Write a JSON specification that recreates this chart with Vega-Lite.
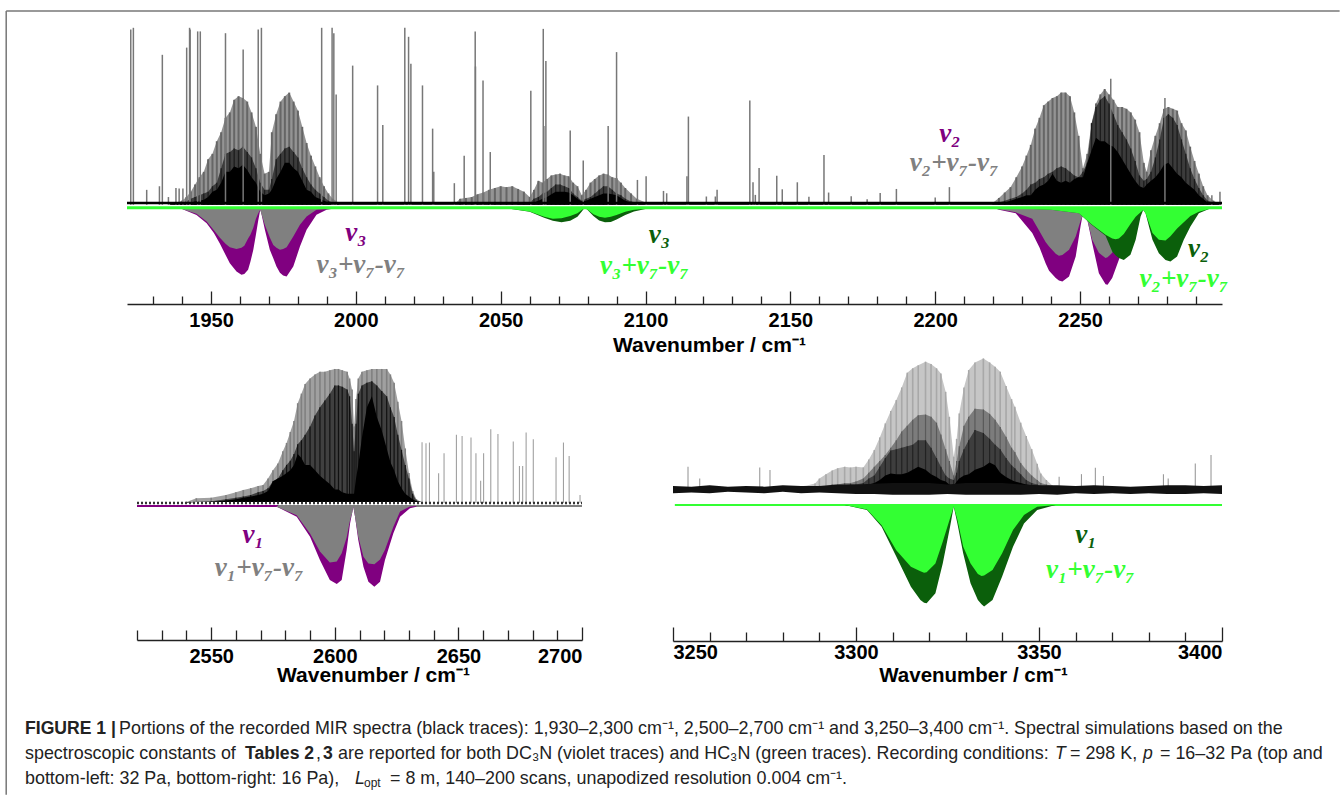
{"$schema":"https://vega.github.io/schema/vega-lite/v6.json","background":"white","padding":{"left":5,"top":10,"right":0,"bottom":0},"bounds":"flush","spacing":54,"config":{"view":{"stroke":null},"text":{"font":"Liberation Sans"}},
"datasets":{
"frame":[{"a":1879.3,"b":1879.3,"c":1.094,"d":-3.26},{"a":1879.3,"b":2339.6,"c":1.094,"d":1.094}],
"topBase":[{"from":1921,"to":2299,"noise":0.027,"green":0}],
"topSticks":[{"nu":1922.3,"h":0.99},{"nu":1923.2,"h":1.0},{"nu":1927.8,"h":0.1},{"nu":1932.2,"h":0.12},{"nu":1933.2,"h":0.85},{"nu":1935.3,"h":0.06},{"nu":1937.9,"h":0.11},{"nu":1939,"h":0.107},{"nu":1940.3,"h":0.107},{"nu":1941.6,"h":0.89},{"nu":1942.6,"h":1.0},{"nu":1942.8,"h":0.99},{"nu":1945.4,"h":0.98},{"nu":1946.3,"h":0.98},{"nu":1955,"h":0.97},{"nu":1961.1,"h":0.88},{"nu":1966.3,"h":0.99},{"nu":1967.4,"h":1.0},{"nu":1988.2,"h":1.0},{"nu":1991.8,"h":1.0},{"nu":1992.4,"h":0.97},{"nu":1993.2,"h":0.63},{"nu":1998.9,"h":0.79},{"nu":2007.5,"h":0.68},{"nu":2009.3,"h":0.46},{"nu":2016.9,"h":1.0},{"nu":2018.2,"h":0.95},{"nu":2019,"h":0.8},{"nu":2023,"h":0.68},{"nu":2026.5,"h":0.44},{"nu":2026.9,"h":0.2},{"nu":2034,"h":0.137},{"nu":2037.4,"h":0.29},{"nu":2041.2,"h":0.98},{"nu":2041.3,"h":0.785},{"nu":2043.9,"h":0.707},{"nu":2046.4,"h":0.31},{"nu":2060.4,"h":0.65},{"nu":2064.7,"h":0.994},{"nu":2064.9,"h":0.455},{"nu":2065.6,"h":0.816},{"nu":2074,"h":0.43},{"nu":2078.5,"h":0.263},{"nu":2087.1,"h":0.455},{"nu":2090,"h":0.865},{"nu":2097.2,"h":0.155},{"nu":2100.2,"h":0.176},{"nu":2106.2,"h":0.094},{"nu":2107.3,"h":0.081},{"nu":2114.3,"h":0.176},{"nu":2114.8,"h":0.507},{"nu":2121,"h":0.063},{"nu":2124.1,"h":0.063},{"nu":2124.7,"h":0.1},{"nu":2136,"h":0.596},{"nu":2137.1,"h":0.142},{"nu":2137.9,"h":0.072},{"nu":2139.2,"h":0.222},{"nu":2145.3,"h":0.178},{"nu":2147.2,"h":0.103},{"nu":2152.4,"h":0.142},{"nu":2156.4,"h":0.061},{"nu":2161.6,"h":0.294},{"nu":2163.2,"h":0.085},{"nu":2171,"h":0.065},{"nu":2176.5,"h":0.048},{"nu":2181,"h":0.083},{"nu":2186.6,"h":0.105},{"nu":2200,"h":0.057},{"nu":2204.9,"h":0.115},{"nu":2260.6,"h":0.717},{"nu":2279.3,"h":0.61},{"nu":2295.5,"h":0.07},{"nu":2298.3,"h":0.09}],
"topBands":[{"nu":1936,"light":0.02,"mid":0.02,"dark":0.02},{"nu":1938,"light":0.03,"mid":0.025,"dark":0.022},{"nu":1940,"light":0.04,"mid":0.03,"dark":0.025},{"nu":1941.5,"light":0.06,"mid":0.035,"dark":0.028},{"nu":1943,"light":0.09,"mid":0.05,"dark":0.03},{"nu":1944.5,"light":0.13,"mid":0.06,"dark":0.035},{"nu":1946,"light":0.17,"mid":0.07,"dark":0.04},{"nu":1947.5,"light":0.2,"mid":0.08,"dark":0.045},{"nu":1949,"light":0.27,"mid":0.09,"dark":0.06},{"nu":1950.5,"light":0.3,"mid":0.12,"dark":0.09},{"nu":1952,"light":0.37,"mid":0.14,"dark":0.1},{"nu":1953.5,"light":0.42,"mid":0.22,"dark":0.14},{"nu":1955,"light":0.5,"mid":0.3,"dark":0.2},{"nu":1956.5,"light":0.53,"mid":0.31,"dark":0.2},{"nu":1958,"light":0.6,"mid":0.33,"dark":0.23},{"nu":1959.5,"light":0.62,"mid":0.32,"dark":0.22},{"nu":1961,"light":0.61,"mid":0.34,"dark":0.24},{"nu":1962.5,"light":0.59,"mid":0.31,"dark":0.21},{"nu":1964,"light":0.53,"mid":0.28,"dark":0.17},{"nu":1965.5,"light":0.45,"mid":0.22,"dark":0.14},{"nu":1967,"light":0.3,"mid":0.14,"dark":0.09},{"nu":1968.5,"light":0.19,"mid":0.1,"dark":0.07},{"nu":1970,"light":0.2,"mid":0.1,"dark":0.08},{"nu":1971,"light":0.42,"mid":0.16,"dark":0.1},{"nu":1972.5,"light":0.52,"mid":0.27,"dark":0.16},{"nu":1974,"light":0.59,"mid":0.3,"dark":0.2},{"nu":1975.5,"light":0.62,"mid":0.33,"dark":0.25},{"nu":1977,"light":0.64,"mid":0.34,"dark":0.25},{"nu":1978.5,"light":0.59,"mid":0.31,"dark":0.22},{"nu":1980,"light":0.54,"mid":0.28,"dark":0.2},{"nu":1981.5,"light":0.45,"mid":0.22,"dark":0.15},{"nu":1983,"light":0.36,"mid":0.17,"dark":0.1},{"nu":1984.5,"light":0.29,"mid":0.13,"dark":0.09},{"nu":1986,"light":0.23,"mid":0.1,"dark":0.06},{"nu":1987.5,"light":0.17,"mid":0.08,"dark":0.05},{"nu":1989,"light":0.12,"mid":0.06,"dark":0.04},{"nu":1990.5,"light":0.08,"mid":0.04,"dark":0.03},{"nu":1992,"light":0.05,"mid":0.03,"dark":0.025},{"nu":1994,"light":0.03,"mid":0.02,"dark":0.02},{"nu":2034,"light":0.02,"mid":0.02,"dark":0.02},{"nu":2036,"light":0.05,"mid":0.02,"dark":0.02},{"nu":2038,"light":0.055,"mid":0.02,"dark":0.02},{"nu":2040,"light":0.06,"mid":0.02,"dark":0.02},{"nu":2042,"light":0.075,"mid":0.02,"dark":0.02},{"nu":2044,"light":0.085,"mid":0.025,"dark":0.02},{"nu":2046,"light":0.1,"mid":0.025,"dark":0.02},{"nu":2048,"light":0.11,"mid":0.03,"dark":0.02},{"nu":2050,"light":0.12,"mid":0.03,"dark":0.02},{"nu":2052,"light":0.115,"mid":0.03,"dark":0.02},{"nu":2054,"light":0.12,"mid":0.03,"dark":0.02},{"nu":2056,"light":0.105,"mid":0.03,"dark":0.02},{"nu":2058,"light":0.09,"mid":0.03,"dark":0.025},{"nu":2060,"light":0.06,"mid":0.03,"dark":0.025},{"nu":2061.5,"light":0.1,"mid":0.05,"dark":0.03},{"nu":2063,"light":0.15,"mid":0.06,"dark":0.04},{"nu":2064.5,"light":0.14,"mid":0.08,"dark":0.05},{"nu":2066,"light":0.16,"mid":0.09,"dark":0.06},{"nu":2067.5,"light":0.18,"mid":0.11,"dark":0.075},{"nu":2069,"light":0.185,"mid":0.13,"dark":0.09},{"nu":2070.5,"light":0.19,"mid":0.13,"dark":0.09},{"nu":2072,"light":0.18,"mid":0.12,"dark":0.09},{"nu":2073.5,"light":0.175,"mid":0.11,"dark":0.085},{"nu":2075,"light":0.14,"mid":0.08,"dark":0.07},{"nu":2076.5,"light":0.12,"mid":0.06,"dark":0.05},{"nu":2078,"light":0.07,"mid":0.04,"dark":0.035},{"nu":2079.5,"light":0.1,"mid":0.05,"dark":0.04},{"nu":2081,"light":0.14,"mid":0.06,"dark":0.05},{"nu":2082.5,"light":0.16,"mid":0.08,"dark":0.06},{"nu":2084,"light":0.18,"mid":0.1,"dark":0.07},{"nu":2085.5,"light":0.19,"mid":0.12,"dark":0.08},{"nu":2087,"light":0.185,"mid":0.12,"dark":0.08},{"nu":2088.5,"light":0.17,"mid":0.1,"dark":0.075},{"nu":2090,"light":0.165,"mid":0.08,"dark":0.07},{"nu":2091.5,"light":0.14,"mid":0.07,"dark":0.055},{"nu":2093,"light":0.11,"mid":0.05,"dark":0.04},{"nu":2095,"light":0.08,"mid":0.035,"dark":0.03},{"nu":2097,"light":0.05,"mid":0.03,"dark":0.025},{"nu":2100,"light":0.03,"mid":0.02,"dark":0.02},{"nu":2220,"light":0.03,"mid":0.025,"dark":0.02},{"nu":2222,"light":0.055,"mid":0.03,"dark":0.025},{"nu":2224,"light":0.085,"mid":0.04,"dark":0.03},{"nu":2226,"light":0.115,"mid":0.05,"dark":0.04},{"nu":2228,"light":0.17,"mid":0.06,"dark":0.05},{"nu":2230,"light":0.23,"mid":0.08,"dark":0.06},{"nu":2231.5,"light":0.29,"mid":0.1,"dark":0.07},{"nu":2233,"light":0.35,"mid":0.13,"dark":0.07},{"nu":2234.5,"light":0.44,"mid":0.14,"dark":0.1},{"nu":2236,"light":0.5,"mid":0.16,"dark":0.12},{"nu":2237.5,"light":0.57,"mid":0.17,"dark":0.13},{"nu":2239,"light":0.59,"mid":0.19,"dark":0.15},{"nu":2240.5,"light":0.61,"mid":0.2,"dark":0.19},{"nu":2242,"light":0.62,"mid":0.22,"dark":0.15},{"nu":2243.5,"light":0.64,"mid":0.23,"dark":0.14},{"nu":2245,"light":0.64,"mid":0.22,"dark":0.15},{"nu":2246.5,"light":0.62,"mid":0.2,"dark":0.14},{"nu":2248,"light":0.53,"mid":0.18,"dark":0.16},{"nu":2249.5,"light":0.4,"mid":0.17,"dark":0.17},{"nu":2251,"light":0.22,"mid":0.2,"dark":0.17},{"nu":2252.5,"light":0.3,"mid":0.25,"dark":0.25},{"nu":2254,"light":0.47,"mid":0.47,"dark":0.32},{"nu":2255.5,"light":0.58,"mid":0.56,"dark":0.39},{"nu":2257,"light":0.63,"mid":0.6,"dark":0.37},{"nu":2258.5,"light":0.66,"mid":0.62,"dark":0.37},{"nu":2260,"light":0.63,"mid":0.58,"dark":0.35},{"nu":2261.5,"light":0.6,"mid":0.52,"dark":0.34},{"nu":2263,"light":0.56,"mid":0.46,"dark":0.31},{"nu":2264.5,"light":0.56,"mid":0.42,"dark":0.27},{"nu":2266,"light":0.55,"mid":0.38,"dark":0.23},{"nu":2267.5,"light":0.53,"mid":0.33,"dark":0.19},{"nu":2269,"light":0.49,"mid":0.26,"dark":0.15},{"nu":2270.5,"light":0.42,"mid":0.18,"dark":0.12},{"nu":2272,"light":0.25,"mid":0.15,"dark":0.11},{"nu":2273,"light":0.2,"mid":0.16,"dark":0.13},{"nu":2274.5,"light":0.32,"mid":0.2,"dark":0.15},{"nu":2276,"light":0.4,"mid":0.28,"dark":0.17},{"nu":2277.5,"light":0.47,"mid":0.38,"dark":0.2},{"nu":2279,"light":0.55,"mid":0.5,"dark":0.24},{"nu":2280.5,"light":0.56,"mid":0.52,"dark":0.25},{"nu":2282,"light":0.55,"mid":0.5,"dark":0.22},{"nu":2283.5,"light":0.54,"mid":0.46,"dark":0.19},{"nu":2285,"light":0.47,"mid":0.38,"dark":0.17},{"nu":2286.5,"light":0.43,"mid":0.3,"dark":0.14},{"nu":2288,"light":0.34,"mid":0.22,"dark":0.12},{"nu":2289.5,"light":0.26,"mid":0.16,"dark":0.1},{"nu":2291,"light":0.19,"mid":0.11,"dark":0.07},{"nu":2292.5,"light":0.12,"mid":0.07,"dark":0.05},{"nu":2294,"light":0.07,"mid":0.04,"dark":0.03},{"nu":2296,"light":0.04,"mid":0.03,"dark":0.025},{"nu":2298.5,"light":0.02,"mid":0.02,"dark":0.02}],
"topD":[{"nu":1932,"strong":0,"weak":0},{"nu":1940,"strong":-0.006,"weak":-0.006},{"nu":1945,"strong":-0.04,"weak":-0.033},{"nu":1948.5,"strong":-0.085,"weak":-0.076},{"nu":1951,"strong":-0.14,"weak":-0.125},{"nu":1953,"strong":-0.196,"weak":-0.165},{"nu":1955,"strong":-0.26,"weak":-0.2},{"nu":1956.5,"strong":-0.307,"weak":-0.219},{"nu":1958.8,"strong":-0.354,"weak":-0.228},{"nu":1960.5,"strong":-0.372,"weak":-0.222},{"nu":1961.5,"strong":-0.368,"weak":-0.21},{"nu":1962.8,"strong":-0.344,"weak":-0.17},{"nu":1963.6,"strong":-0.3,"weak":-0.15},{"nu":1964.6,"strong":-0.233,"weak":-0.11},{"nu":1965.5,"strong":-0.15,"weak":-0.06},{"nu":1966.3,"strong":-0.07,"weak":-0.03},{"nu":1967,"strong":-0.01,"weak":-0.01},{"nu":1967.4,"strong":-0.033,"weak":-0.033},{"nu":1968.6,"strong":-0.122,"weak":-0.095},{"nu":1970.3,"strong":-0.233,"weak":-0.165},{"nu":1971.5,"strong":-0.28,"weak":-0.206},{"nu":1972.6,"strong":-0.326,"weak":-0.222},{"nu":1973.8,"strong":-0.36,"weak":-0.233},{"nu":1974.9,"strong":-0.376,"weak":-0.228},{"nu":1976.1,"strong":-0.381,"weak":-0.219},{"nu":1978.4,"strong":-0.326,"weak":-0.159},{"nu":1980.7,"strong":-0.215,"weak":-0.094},{"nu":1983,"strong":-0.122,"weak":-0.048},{"nu":1986.4,"strong":-0.039,"weak":-0.011},{"nu":1989.9,"strong":-0.011,"weak":-0.005},{"nu":1992,"strong":-0.005,"weak":0},{"nu":1996,"strong":0,"weak":0},{"nu":2220,"strong":0,"weak":0},{"nu":2222,"strong":-0.01,"weak":-0.008},{"nu":2227.8,"strong":-0.03,"weak":-0.025},{"nu":2233.5,"strong":-0.14,"weak":-0.06},{"nu":2236,"strong":-0.22,"weak":-0.13},{"nu":2238.1,"strong":-0.307,"weak":-0.19},{"nu":2239.3,"strong":-0.35,"weak":-0.214},{"nu":2241.6,"strong":-0.39,"weak":-0.255},{"nu":2242.7,"strong":-0.403,"weak":-0.266},{"nu":2243.9,"strong":-0.409,"weak":-0.262},{"nu":2246.2,"strong":-0.381,"weak":-0.233},{"nu":2248.5,"strong":-0.27,"weak":-0.159},{"nu":2250.2,"strong":-0.1,"weak":-0.07},{"nu":2250.8,"strong":-0.048,"weak":-0.048},{"nu":2251.5,"strong":-0.03,"weak":-0.03},{"nu":2252.5,"strong":-0.066,"weak":-0.066},{"nu":2254.2,"strong":-0.196,"weak":-0.177},{"nu":2256.5,"strong":-0.363,"weak":-0.25},{"nu":2258.8,"strong":-0.425,"weak":-0.279},{"nu":2259.5,"strong":-0.427,"weak":-0.275},{"nu":2261.1,"strong":-0.39,"weak":-0.25},{"nu":2263.4,"strong":-0.288,"weak":-0.177},{"nu":2265,"strong":-0.2,"weak":-0.12},{"nu":2268,"strong":-0.08,"weak":-0.05},{"nu":2271,"strong":-0.01,"weak":-0.01},{"nu":2273,"strong":0,"weak":0}],
"topH":[{"nu":2040,"strong":0,"weak":0},{"nu":2052,"strong":-0.002,"weak":-0.002},{"nu":2060,"strong":-0.022,"weak":-0.02},{"nu":2065,"strong":-0.055,"weak":-0.05},{"nu":2068,"strong":-0.072,"weak":-0.06},{"nu":2071,"strong":-0.08,"weak":-0.058},{"nu":2074,"strong":-0.072,"weak":-0.045},{"nu":2076.5,"strong":-0.05,"weak":-0.03},{"nu":2078,"strong":-0.02,"weak":-0.012},{"nu":2079,"strong":0,"weak":0},{"nu":2080,"strong":-0.012,"weak":-0.01},{"nu":2082,"strong":-0.045,"weak":-0.035},{"nu":2084,"strong":-0.07,"weak":-0.05},{"nu":2086,"strong":-0.08,"weak":-0.055},{"nu":2088,"strong":-0.078,"weak":-0.05},{"nu":2090,"strong":-0.065,"weak":-0.04},{"nu":2093,"strong":-0.04,"weak":-0.022},{"nu":2096,"strong":-0.02,"weak":-0.01},{"nu":2100,"strong":-0.006,"weak":-0.003},{"nu":2105,"strong":0,"weak":0},{"nu":2225,"strong":0,"weak":0},{"nu":2240,"strong":-0.01,"weak":-0.01},{"nu":2249.6,"strong":-0.03,"weak":-0.03},{"nu":2254.2,"strong":-0.096,"weak":-0.094},{"nu":2258.8,"strong":-0.155,"weak":-0.15},{"nu":2261.1,"strong":-0.242,"weak":-0.17},{"nu":2262.3,"strong":-0.265,"weak":-0.174},{"nu":2263.4,"strong":-0.279,"weak":-0.17},{"nu":2265.1,"strong":-0.289,"weak":-0.145},{"nu":2267.4,"strong":-0.26,"weak":-0.09},{"nu":2269.2,"strong":-0.177,"weak":-0.05},{"nu":2270.9,"strong":-0.048,"weak":-0.025},{"nu":2271.8,"strong":-0.012,"weak":-0.012},{"nu":2272.6,"strong":-0.03,"weak":-0.03},{"nu":2275,"strong":-0.177,"weak":-0.14},{"nu":2277.2,"strong":-0.252,"weak":-0.177},{"nu":2279.5,"strong":-0.289,"weak":-0.181},{"nu":2281.2,"strong":-0.298,"weak":-0.158},{"nu":2283.5,"strong":-0.27,"weak":-0.115},{"nu":2285.8,"strong":-0.177,"weak":-0.08},{"nu":2288.1,"strong":-0.103,"weak":-0.045},{"nu":2291,"strong":-0.03,"weak":-0.022},{"nu":2294.5,"strong":-0.006,"weak":-0.006},{"nu":2298,"strong":0,"weak":0}],
"topLabels":[{"nu":2000,"y":-0.139,"t":"ν₃","kind":"D"},{"nu":2001.7,"y":-0.317,"t":"ν₃+ν₇-ν₇","kind":"DH"},{"nu":2104.8,"y":-0.15,"t":"ν₃","kind":"H"},{"nu":2099.6,"y":-0.322,"t":"ν₃+ν₇-ν₇","kind":"HH"},{"nu":2205.1,"y":0.411,"t":"ν₂","kind":"D"},{"nu":2206.5,"y":0.25,"t":"ν₂+ν₇-ν₇","kind":"DH"},{"nu":2291,"y":-0.228,"t":"ν₂","kind":"H"},{"nu":2285.8,"y":-0.394,"t":"ν₂+ν₇-ν₇","kind":"HH"}],
"leftBase":[{"from":2520,"to":2700,"noise":0.022,"gray":0,"violetTo":2577}],
"leftSticks":[{"nu":2635.3,"h":0.465},{"nu":2636.9,"h":0.458},{"nu":2638.3,"h":0.463},{"nu":2642,"h":0.239},{"nu":2644.2,"h":0.385},{"nu":2649.2,"h":0.519},{"nu":2651.5,"h":0.511},{"nu":2655.1,"h":0.5},{"nu":2657.1,"h":0.385},{"nu":2659,"h":0.185},{"nu":2660.2,"h":0.385},{"nu":2663.1,"h":0.56},{"nu":2666,"h":0.526},{"nu":2672.2,"h":0.47},{"nu":2674.7,"h":0.292},{"nu":2676,"h":0.292},{"nu":2677.4,"h":0.536},{"nu":2680.3,"h":0.487},{"nu":2689.5,"h":0.356},{"nu":2692.5,"h":0.463},{"nu":2694.8,"h":0.365},{"nu":2699.2,"h":0.08}],
"leftBands":[{"nu":2540,"light":0.03,"mid":0.025,"dark":0.025},{"nu":2544,"light":0.056,"mid":0.03,"dark":0.03},{"nu":2550,"light":0.06,"mid":0.035,"dark":0.03},{"nu":2556,"light":0.08,"mid":0.05,"dark":0.04},{"nu":2560,"light":0.1,"mid":0.06,"dark":0.05},{"nu":2563,"light":0.117,"mid":0.07,"dark":0.06},{"nu":2566,"light":0.13,"mid":0.08,"dark":0.07},{"nu":2569,"light":0.145,"mid":0.1,"dark":0.08},{"nu":2571,"light":0.154,"mid":0.11,"dark":0.09},{"nu":2573,"light":0.2,"mid":0.13,"dark":0.11},{"nu":2575,"light":0.26,"mid":0.18,"dark":0.18},{"nu":2577,"light":0.31,"mid":0.2,"dark":0.2},{"nu":2579,"light":0.4,"mid":0.26,"dark":0.22},{"nu":2580.5,"light":0.46,"mid":0.3,"dark":0.24},{"nu":2582,"light":0.54,"mid":0.33,"dark":0.26},{"nu":2583.5,"light":0.62,"mid":0.38,"dark":0.3},{"nu":2585,"light":0.75,"mid":0.45,"dark":0.38},{"nu":2586.5,"light":0.82,"mid":0.48,"dark":0.35},{"nu":2588,"light":0.89,"mid":0.52,"dark":0.3},{"nu":2590,"light":0.93,"mid":0.58,"dark":0.3},{"nu":2592,"light":0.96,"mid":0.66,"dark":0.26},{"nu":2594,"light":0.98,"mid":0.72,"dark":0.22},{"nu":2596,"light":0.98,"mid":0.77,"dark":0.19},{"nu":2598,"light":0.99,"mid":0.82,"dark":0.16},{"nu":2600,"light":1.0,"mid":0.88,"dark":0.12},{"nu":2601.5,"light":1.0,"mid":0.88,"dark":0.12},{"nu":2603,"light":0.99,"mid":0.87,"dark":0.1},{"nu":2605,"light":0.98,"mid":0.85,"dark":0.09},{"nu":2606,"light":0.93,"mid":0.8,"dark":0.09},{"nu":2607,"light":0.85,"mid":0.6,"dark":0.09},{"nu":2607.8,"light":0.58,"mid":0.4,"dark":0.09},{"nu":2608.6,"light":0.78,"mid":0.6,"dark":0.2},{"nu":2609.5,"light":0.93,"mid":0.82,"dark":0.3},{"nu":2611,"light":0.98,"mid":0.88,"dark":0.5},{"nu":2613,"light":0.99,"mid":0.9,"dark":0.72},{"nu":2615,"light":1.0,"mid":0.91,"dark":0.8},{"nu":2617,"light":1.0,"mid":0.88,"dark":0.65},{"nu":2619,"light":1.0,"mid":0.84,"dark":0.55},{"nu":2621,"light":1.0,"mid":0.8,"dark":0.42},{"nu":2622.5,"light":0.96,"mid":0.72,"dark":0.32},{"nu":2624,"light":0.9,"mid":0.65,"dark":0.26},{"nu":2625.5,"light":0.76,"mid":0.52,"dark":0.18},{"nu":2627,"light":0.62,"mid":0.41,"dark":0.13},{"nu":2628.5,"light":0.42,"mid":0.3,"dark":0.09},{"nu":2630,"light":0.24,"mid":0.2,"dark":0.07},{"nu":2631.5,"light":0.11,"mid":0.09,"dark":0.05},{"nu":2633,"light":0.05,"mid":0.04,"dark":0.035},{"nu":2635,"light":0.03,"mid":0.03,"dark":0.03}],
"leftD":[{"nu":2576.5,"strong":-0.005,"weak":-0.005},{"nu":2584.6,"strong":-0.078,"weak":-0.068},{"nu":2590,"strong":-0.224,"weak":-0.2},{"nu":2594,"strong":-0.394,"weak":-0.333},{"nu":2598,"strong":-0.54,"weak":-0.413},{"nu":2600.8,"strong":-0.569,"weak":-0.406},{"nu":2602.8,"strong":-0.54,"weak":-0.345},{"nu":2604.8,"strong":-0.321,"weak":-0.23},{"nu":2606.2,"strong":-0.126,"weak":-0.1},{"nu":2607,"strong":-0.053,"weak":-0.053},{"nu":2607.5,"strong":-0.005,"weak":-0.005},{"nu":2608.2,"strong":-0.078,"weak":-0.078},{"nu":2609.5,"strong":-0.248,"weak":-0.224},{"nu":2611.6,"strong":-0.443,"weak":-0.37},{"nu":2613.6,"strong":-0.552,"weak":-0.42},{"nu":2616,"strong":-0.589,"weak":-0.425},{"nu":2618.3,"strong":-0.552,"weak":-0.39},{"nu":2620.3,"strong":-0.394,"weak":-0.32},{"nu":2623.7,"strong":-0.199,"weak":-0.151},{"nu":2626.4,"strong":-0.078,"weak":-0.04},{"nu":2630.4,"strong":-0.017,"weak":-0.004},{"nu":2633,"strong":-0.005,"weak":0}],
"leftLabels":[{"nu":2567,"y":-0.212,"t":"ν₁","kind":"D"},{"nu":2569.4,"y":-0.453,"t":"ν₁+ν₇-ν₇","kind":"DH"}],
"rightBase":[{"from":3250.5,"to":3400,"green":0}],
"rightSticks":[{"nu":3254.1,"h":0.26},{"nu":3257.3,"h":0.18},{"nu":3273.7,"h":0.256},{"nu":3276.5,"h":0.238},{"nu":3355.5,"h":0.192},{"nu":3361.6,"h":0.21},{"nu":3365.4,"h":0.254},{"nu":3367.6,"h":0.197},{"nu":3384,"h":0.21},{"nu":3385.3,"h":0.18},{"nu":3392.7,"h":0.283},{"nu":3397,"h":0.34}],
"rightNoise":[{"nu":3250,"upper":0.13,"lower":0.08},{"nu":3255,"upper":0.125,"lower":0.085},{"nu":3260,"upper":0.135,"lower":0.08},{"nu":3265,"upper":0.125,"lower":0.09},{"nu":3270,"upper":0.13,"lower":0.085},{"nu":3275,"upper":0.125,"lower":0.08},{"nu":3280,"upper":0.135,"lower":0.09},{"nu":3285,"upper":0.13,"lower":0.08},{"nu":3290,"upper":0.13,"lower":0.085},{"nu":3295,"upper":0.14,"lower":0.08},{"nu":3300,"upper":0.14,"lower":0.075},{"nu":3305,"upper":0.145,"lower":0.075},{"nu":3310,"upper":0.15,"lower":0.07},{"nu":3315,"upper":0.15,"lower":0.07},{"nu":3320,"upper":0.15,"lower":0.07},{"nu":3325,"upper":0.14,"lower":0.075},{"nu":3330,"upper":0.15,"lower":0.07},{"nu":3335,"upper":0.15,"lower":0.07},{"nu":3340,"upper":0.15,"lower":0.07},{"nu":3345,"upper":0.14,"lower":0.07},{"nu":3350,"upper":0.135,"lower":0.075},{"nu":3355,"upper":0.135,"lower":0.07},{"nu":3360,"upper":0.13,"lower":0.08},{"nu":3365,"upper":0.135,"lower":0.075},{"nu":3370,"upper":0.13,"lower":0.08},{"nu":3375,"upper":0.125,"lower":0.075},{"nu":3380,"upper":0.13,"lower":0.08},{"nu":3385,"upper":0.135,"lower":0.075},{"nu":3390,"upper":0.135,"lower":0.075},{"nu":3395,"upper":0.13,"lower":0.08},{"nu":3400,"upper":0.135,"lower":0.075}],
"rightBands":[{"nu":3286,"light":0.13,"mid":0.13,"dark":0.13,"core":0.13},{"nu":3288.8,"light":0.147,"mid":0.13,"dark":0.13,"core":0.13},{"nu":3290,"light":0.18,"mid":0.13,"dark":0.13,"core":0.13},{"nu":3291.8,"light":0.21,"mid":0.13,"dark":0.13,"core":0.13},{"nu":3293.5,"light":0.235,"mid":0.14,"dark":0.13,"core":0.13},{"nu":3295,"light":0.25,"mid":0.14,"dark":0.13,"core":0.13},{"nu":3296.9,"light":0.26,"mid":0.15,"dark":0.135,"core":0.13},{"nu":3298.5,"light":0.255,"mid":0.15,"dark":0.14,"core":0.13},{"nu":3300,"light":0.26,"mid":0.16,"dark":0.14,"core":0.13},{"nu":3302,"light":0.256,"mid":0.18,"dark":0.15,"core":0.135},{"nu":3303.5,"light":0.31,"mid":0.22,"dark":0.18,"core":0.14},{"nu":3305,"light":0.374,"mid":0.26,"dark":0.2,"core":0.15},{"nu":3306.5,"light":0.46,"mid":0.3,"dark":0.26,"core":0.17},{"nu":3308,"light":0.555,"mid":0.34,"dark":0.32,"core":0.2},{"nu":3309.5,"light":0.64,"mid":0.39,"dark":0.37,"core":0.215},{"nu":3311,"light":0.714,"mid":0.44,"dark":0.38,"core":0.21},{"nu":3312.5,"light":0.8,"mid":0.5,"dark":0.39,"core":0.21},{"nu":3314,"light":0.9,"mid":0.54,"dark":0.4,"core":0.22},{"nu":3315.5,"light":0.93,"mid":0.58,"dark":0.41,"core":0.24},{"nu":3317,"light":0.95,"mid":0.61,"dark":0.44,"core":0.26},{"nu":3319,"light":0.975,"mid":0.615,"dark":0.44,"core":0.24},{"nu":3320.5,"light":0.96,"mid":0.6,"dark":0.39,"core":0.21},{"nu":3322,"light":0.93,"mid":0.56,"dark":0.32,"core":0.19},{"nu":3323.2,"light":0.895,"mid":0.48,"dark":0.26,"core":0.17},{"nu":3324.5,"light":0.77,"mid":0.38,"dark":0.2,"core":0.16},{"nu":3325.5,"light":0.6,"mid":0.3,"dark":0.18,"core":0.14},{"nu":3326.7,"light":0.328,"mid":0.2,"dark":0.17,"core":0.13},{"nu":3327.5,"light":0.45,"mid":0.3,"dark":0.22,"core":0.16},{"nu":3328.2,"light":0.623,"mid":0.4,"dark":0.3,"core":0.18},{"nu":3329.5,"light":0.8,"mid":0.54,"dark":0.38,"core":0.2},{"nu":3330.8,"light":0.918,"mid":0.6,"dark":0.44,"core":0.21},{"nu":3332.5,"light":0.97,"mid":0.655,"dark":0.51,"core":0.24},{"nu":3334.8,"light":0.997,"mid":0.65,"dark":0.49,"core":0.26},{"nu":3336.5,"light":0.97,"mid":0.62,"dark":0.45,"core":0.29},{"nu":3338,"light":0.94,"mid":0.58,"dark":0.41,"core":0.27},{"nu":3339.4,"light":0.907,"mid":0.53,"dark":0.38,"core":0.22},{"nu":3341,"light":0.81,"mid":0.465,"dark":0.32,"core":0.19},{"nu":3342.5,"light":0.72,"mid":0.39,"dark":0.27,"core":0.17},{"nu":3343.4,"light":0.668,"mid":0.36,"dark":0.25,"core":0.16},{"nu":3345,"light":0.56,"mid":0.285,"dark":0.21,"core":0.15},{"nu":3346.5,"light":0.47,"mid":0.24,"dark":0.17,"core":0.14},{"nu":3348,"light":0.38,"mid":0.2,"dark":0.15,"core":0.135},{"nu":3349.5,"light":0.28,"mid":0.17,"dark":0.14,"core":0.13},{"nu":3350.5,"light":0.215,"mid":0.15,"dark":0.13,"core":0.13},{"nu":3352,"light":0.17,"mid":0.14,"dark":0.13,"core":0.13},{"nu":3353.5,"light":0.136,"mid":0.13,"dark":0.13,"core":0.13}],
"rightH":[{"nu":3296.9,"strong":0,"weak":0},{"nu":3303,"strong":-0.034,"weak":-0.03},{"nu":3307,"strong":-0.148,"weak":-0.137},{"nu":3311,"strong":-0.35,"weak":-0.307},{"nu":3315,"strong":-0.556,"weak":-0.42},{"nu":3317.6,"strong":-0.646,"weak":-0.45},{"nu":3318.6,"strong":-0.665,"weak":-0.461},{"nu":3319.3,"strong":-0.669,"weak":-0.458},{"nu":3321.7,"strong":-0.6,"weak":-0.397},{"nu":3323.7,"strong":-0.397,"weak":-0.25},{"nu":3325.7,"strong":-0.148,"weak":-0.09},{"nu":3326.7,"strong":-0.01,"weak":-0.01},{"nu":3327.7,"strong":-0.125,"weak":-0.1},{"nu":3329.3,"strong":-0.33,"weak":-0.284},{"nu":3331.3,"strong":-0.533,"weak":-0.397},{"nu":3333.3,"strong":-0.646,"weak":-0.47},{"nu":3334.3,"strong":-0.675,"weak":-0.483},{"nu":3335,"strong":-0.69,"weak":-0.48},{"nu":3337.3,"strong":-0.646,"weak":-0.442},{"nu":3339.9,"strong":-0.488,"weak":-0.33},{"nu":3342.9,"strong":-0.284,"weak":-0.17},{"nu":3345.9,"strong":-0.125,"weak":-0.068},{"nu":3349.5,"strong":-0.034,"weak":-0.011},{"nu":3354.5,"strong":0,"weak":0}],
"rightLabels":[{"nu":3362.8,"y":-0.204,"t":"ν₁","kind":"H"},{"nu":3364,"y":-0.442,"t":"ν₁+ν₇-ν₇","kind":"HH"}],
"caption":[{"pos":2,"line":1,"t":"FIGURE 1 |","face":"bold"},{"pos":96,"line":1,"t":"Portions of the recorded MIR spectra (black traces): 1,930–2,300 cm⁻¹, 2,500–2,700 cm⁻¹ and 3,250–3,400 cm⁻¹. Spectral simulations based on the","face":"plain"},{"pos":2,"line":2,"t":"spectroscopic constants of","face":"plain"},{"pos":222,"line":2,"t":"Tables 2","face":"bold"},{"pos":293,"line":2,"t":",","face":"plain"},{"pos":300,"line":2,"t":"3","face":"bold"},{"pos":315,"line":2,"t":"are reported for both DC₃N (violet traces) and HC₃N (green traces). Recording conditions:","face":"plain"},{"pos":1032,"line":2,"t":"T","face":"italic"},{"pos":1047,"line":2,"t":"= 298 K,","face":"plain"},{"pos":1120,"line":2,"t":"p","face":"italic"},{"pos":1137,"line":2,"t":"= 16–32 Pa (top and","face":"plain"},{"pos":2,"line":3,"t":"bottom-left: 32 Pa, bottom-right: 16 Pa),","face":"plain"},{"pos":332,"line":3,"t":"L","face":"italic"},{"pos":341,"line":3.15,"t":"opt","face":"small"},{"pos":367,"line":3,"t":"= 8 m, 140–200 scans, unapodized resolution 0.004 cm⁻¹.","face":"plain"}]
},
"vconcat":[
{"width":1095,"height":278,"resolve":{"axis":{"x":"independent"}},"layer":[
{"data":{"name":"topBands"},"mark":{"type":"area","color":"#949494"},"encoding":{"x":{"field":"nu","type":"quantitative","scale":{"domain":[1921,2299],"nice":false,"zero":false},"axis":{"orient":"bottom","values":[1950,2000,2050,2100,2150,2200,2250],"format":"d","grid":false,"tickSize":-13,"tickColor":"#222","tickWidth":1.3,"domainColor":"#222","domainWidth":1.6,"labelFont":"Liberation Sans","labelFontWeight":"bold","labelFontSize":20,"labelColor":"#000","labelPadding":19,"title":"Wavenumber / cm⁻¹","titleFont":"Liberation Sans","titleFontSize":21,"titleFontWeight":"bold","titleColor":"#000","titleX":582,"titleY":30}},"y":{"field":"light","type":"quantitative","scale":{"domain":[-0.534,1.01],"nice":false,"zero":false},"axis":null},"y2":{"datum":0.017}}},
{"data":{"name":"topBands"},"mark":{"type":"rule","color":"#666666","strokeWidth":2},"encoding":{"x":{"field":"nu","type":"quantitative","axis":null},"y":{"field":"light","type":"quantitative","axis":null},"y2":{"datum":0.017}}},
{"data":{"name":"topBands"},"mark":{"type":"area","color":"#3c3c3c"},"encoding":{"x":{"field":"nu","type":"quantitative","axis":null},"y":{"field":"mid","type":"quantitative","axis":null},"y2":{"datum":0.017}}},
{"data":{"name":"topBands"},"mark":{"type":"rule","color":"#1c1c1c","strokeWidth":1.3},"encoding":{"x":{"field":"nu","type":"quantitative","axis":null},"y":{"field":"mid","type":"quantitative","axis":null},"y2":{"datum":0.017}}},
{"data":{"name":"topBands"},"mark":{"type":"area","color":"#000000"},"encoding":{"x":{"field":"nu","type":"quantitative","axis":null},"y":{"field":"dark","type":"quantitative","axis":null},"y2":{"datum":0.017}}},
{"data":{"name":"topSticks"},"mark":{"type":"rule","color":"#777777","strokeWidth":1.5},"encoding":{"x":{"field":"nu","type":"quantitative","axis":null},"y":{"field":"h","type":"quantitative","axis":null},"y2":{"datum":0.017}}},
{"data":{"name":"topBase"},"mark":{"type":"rule","color":"#000000","strokeWidth":2.6},"encoding":{"x":{"field":"from","type":"quantitative","axis":{"orient":"bottom","values":[1930,1940,1960,1970,1980,1990,2010,2020,2030,2040,2060,2070,2080,2090,2110,2120,2130,2140,2160,2170,2180,2190,2210,2220,2230,2240,2260,2270,2280,2290],"labels":false,"domain":false,"title":null,"grid":false,"tickSize":-8,"tickColor":"#222","tickWidth":1.3}},"x2":{"field":"to"},"y":{"field":"noise","type":"quantitative","axis":null}}},
{"data":{"name":"topD"},"mark":{"type":"area","color":"#800080"},"encoding":{"x":{"field":"nu","type":"quantitative","axis":null},"y":{"field":"strong","type":"quantitative","axis":null},"y2":{"datum":0}}},
{"data":{"name":"topD"},"mark":{"type":"area","color":"#808080"},"encoding":{"x":{"field":"nu","type":"quantitative","axis":null},"y":{"field":"weak","type":"quantitative","axis":null},"y2":{"datum":0}}},
{"data":{"name":"topH"},"mark":{"type":"area","color":"#0b5f0b"},"encoding":{"x":{"field":"nu","type":"quantitative","axis":null},"y":{"field":"strong","type":"quantitative","axis":null},"y2":{"datum":0}}},
{"data":{"name":"topH"},"mark":{"type":"area","color":"#33ff33"},"encoding":{"x":{"field":"nu","type":"quantitative","axis":null},"y":{"field":"weak","type":"quantitative","axis":null},"y2":{"datum":0}}},
{"data":{"name":"topBase"},"mark":{"type":"rule","color":"#33ff33","strokeWidth":3},"encoding":{"x":{"field":"from","type":"quantitative","axis":null},"x2":{"field":"to"},"y":{"field":"green","type":"quantitative","axis":null}}},
{"data":{"name":"topLabels"},"mark":{"type":"text","font":"Liberation Serif","fontStyle":"italic","fontWeight":"bold","fontSize":27},"encoding":{"x":{"field":"nu","type":"quantitative","axis":null},"y":{"field":"y","type":"quantitative","axis":null},"text":{"field":"t"},"color":{"field":"kind","type":"nominal","legend":null,"scale":{"domain":["D","DH","H","HH"],"range":["#800080","#808080","#0b5f0b","#33ff33"]}}}},
{"data":{"name":"frame"},"mark":{"type":"rule","color":"#777777","strokeWidth":1.5},"encoding":{"x":{"field":"a","type":"quantitative","axis":null},"x2":{"field":"b"},"y":{"field":"c","type":"quantitative","axis":null},"y2":{"field":"d"}}}
]},
{"bounds":"flush","spacing":0,"hconcat":[
{"width":10,"height":10,"data":{"values":[]},"mark":"text","encoding":{}},
{"width":445,"height":282,"resolve":{"axis":{"x":"independent"}},"layer":[
{"data":{"name":"leftBands"},"mark":{"type":"area","color":"#a0a0a0"},"encoding":{"x":{"field":"nu","type":"quantitative","scale":{"domain":[2520,2700],"nice":false,"zero":false},"axis":{"orient":"bottom","values":[2550,2600,2650,2700],"format":"d","grid":false,"tickSize":-13,"tickColor":"#222","tickWidth":1.3,"domainColor":"#222","domainWidth":1.6,"labelFont":"Liberation Sans","labelFontWeight":"bold","labelFontSize":20,"labelColor":"#000","labelPadding":19,"title":"Wavenumber / cm⁻¹","titleFont":"Liberation Sans","titleFontSize":21,"titleFontWeight":"bold","titleColor":"#000","titleX":236,"titleY":24}},"y":{"field":"light","type":"quantitative","scale":{"domain":[-0.978,1.08],"nice":false,"zero":false},"axis":null},"y2":{"datum":0.03}}},
{"data":{"name":"leftBands"},"mark":{"type":"rule","color":"#808080","strokeWidth":1.6},"encoding":{"x":{"field":"nu","type":"quantitative","axis":null},"y":{"field":"light","type":"quantitative","axis":null},"y2":{"datum":0.03}}},
{"data":{"name":"leftBands"},"mark":{"type":"area","color":"#404040"},"encoding":{"x":{"field":"nu","type":"quantitative","axis":null},"y":{"field":"mid","type":"quantitative","axis":null},"y2":{"datum":0.03}}},
{"data":{"name":"leftBands"},"mark":{"type":"rule","color":"#111111","strokeWidth":1.2},"encoding":{"x":{"field":"nu","type":"quantitative","axis":null},"y":{"field":"mid","type":"quantitative","axis":null},"y2":{"datum":0.03}}},
{"data":{"name":"leftBands"},"mark":{"type":"area","color":"#000000"},"encoding":{"x":{"field":"nu","type":"quantitative","axis":null},"y":{"field":"dark","type":"quantitative","axis":null},"y2":{"datum":0.03}}},
{"data":{"name":"leftSticks"},"mark":{"type":"rule","color":"#a0a0a0","strokeWidth":1.1},"encoding":{"x":{"field":"nu","type":"quantitative","axis":null},"y":{"field":"h","type":"quantitative","axis":null},"y2":{"datum":0.022}}},
{"data":{"name":"leftBase"},"mark":{"type":"rule","color":"#333333","strokeWidth":2.5,"strokeDash":[2,2]},"encoding":{"x":{"field":"from","type":"quantitative","axis":{"orient":"bottom","values":[2520,2530,2540,2560,2570,2580,2590,2610,2620,2630,2640,2660,2670,2680,2690],"labels":false,"domain":false,"title":null,"grid":false,"tickSize":-10,"tickColor":"#222","tickWidth":1.3}},"x2":{"field":"to"},"y":{"field":"noise","type":"quantitative","axis":null}}},
{"data":{"name":"leftBase"},"mark":{"type":"rule","color":"#808080","strokeWidth":2},"encoding":{"x":{"field":"from","type":"quantitative","axis":null},"x2":{"field":"to"},"y":{"field":"gray","type":"quantitative","axis":null}}},
{"data":{"name":"leftBase"},"mark":{"type":"rule","color":"#800080","strokeWidth":2},"encoding":{"x":{"field":"from","type":"quantitative","axis":null},"x2":{"field":"violetTo"},"y":{"field":"gray","type":"quantitative","axis":null}}},
{"data":{"name":"leftD"},"mark":{"type":"area","color":"#800080"},"encoding":{"x":{"field":"nu","type":"quantitative","axis":null},"y":{"field":"strong","type":"quantitative","axis":null},"y2":{"datum":0}}},
{"data":{"name":"leftD"},"mark":{"type":"area","color":"#808080"},"encoding":{"x":{"field":"nu","type":"quantitative","axis":null},"y":{"field":"weak","type":"quantitative","axis":null},"y2":{"datum":0}}},
{"data":{"name":"leftLabels"},"mark":{"type":"text","font":"Liberation Serif","fontStyle":"italic","fontWeight":"bold","fontSize":27},"encoding":{"x":{"field":"nu","type":"quantitative","axis":null},"y":{"field":"y","type":"quantitative","axis":null},"text":{"field":"t"},"color":{"field":"kind","type":"nominal","legend":null,"scale":{"domain":["D","DH"],"range":["#800080","#808080"]}}}}
]},
{"width":91,"height":10,"data":{"values":[]},"mark":"text","encoding":{}},
{"width":549,"height":283,"resolve":{"axis":{"x":"independent"}},"layer":[
{"data":{"name":"rightBands"},"mark":{"type":"area","color":"#c6c6c6"},"encoding":{"x":{"field":"nu","type":"quantitative","scale":{"domain":[3250,3400],"nice":false,"zero":false},"axis":{"orient":"bottom","values":[3250,3300,3350,3400],"format":"d","grid":false,"tickSize":-14,"tickColor":"#222","tickWidth":1.3,"domainColor":"#222","domainWidth":1.6,"labelFont":"Liberation Sans","labelFontWeight":"bold","labelFontSize":20,"labelColor":"#000","labelPadding":15,"title":"Wavenumber / cm⁻¹","titleFont":"Liberation Sans","titleFontSize":20.5,"titleFontWeight":"bold","titleColor":"#000","titleX":300,"titleY":24,"encode":{"labels":{"update":{"dx":{"signal":"datum.value==3250?11:datum.value==3400?-9:datum.value==3350?4:0"}}}}}},"y":{"field":"light","type":"quantitative","scale":{"domain":[-0.925,1.0],"nice":false,"zero":false},"axis":null},"y2":{"datum":0.1}}},
{"data":{"name":"rightBands"},"mark":{"type":"rule","color":"#a8a8a8","strokeWidth":1.6},"encoding":{"x":{"field":"nu","type":"quantitative","axis":null},"y":{"field":"light","type":"quantitative","axis":null},"y2":{"datum":0.1}}},
{"data":{"name":"rightBands"},"mark":{"type":"area","color":"#7c7c7c"},"encoding":{"x":{"field":"nu","type":"quantitative","axis":null},"y":{"field":"mid","type":"quantitative","axis":null},"y2":{"datum":0.1}}},
{"data":{"name":"rightBands"},"mark":{"type":"rule","color":"#5a5a5a","strokeWidth":1.2},"encoding":{"x":{"field":"nu","type":"quantitative","axis":null},"y":{"field":"mid","type":"quantitative","axis":null},"y2":{"datum":0.1}}},
{"data":{"name":"rightBands"},"mark":{"type":"area","color":"#3e3e3e"},"encoding":{"x":{"field":"nu","type":"quantitative","axis":null},"y":{"field":"dark","type":"quantitative","axis":null},"y2":{"datum":0.1}}},
{"data":{"name":"rightBands"},"mark":{"type":"rule","color":"#222222","strokeWidth":1.2},"encoding":{"x":{"field":"nu","type":"quantitative","axis":null},"y":{"field":"dark","type":"quantitative","axis":null},"y2":{"datum":0.1}}},
{"data":{"name":"rightBands"},"mark":{"type":"area","color":"#000000"},"encoding":{"x":{"field":"nu","type":"quantitative","axis":null},"y":{"field":"core","type":"quantitative","axis":null},"y2":{"datum":0.1}}},
{"data":{"name":"rightSticks"},"mark":{"type":"rule","color":"#9a9a9a","strokeWidth":1.1},"encoding":{"x":{"field":"nu","type":"quantitative","axis":null},"y":{"field":"h","type":"quantitative","axis":null},"y2":{"datum":0.1}}},
{"data":{"name":"rightNoise"},"mark":{"type":"area","color":"#111111"},"encoding":{"x":{"field":"nu","type":"quantitative","axis":null},"y":{"field":"upper","type":"quantitative","axis":null},"y2":{"field":"lower"}}},
{"data":{"name":"rightBase"},"mark":{"type":"rule","color":"#33ff33","strokeWidth":2},"encoding":{"x":{"field":"from","type":"quantitative","axis":{"orient":"bottom","values":[3260,3270,3280,3290,3310,3320,3330,3340,3360,3370,3380,3390],"labels":false,"domain":false,"title":null,"grid":false,"tickSize":-9,"tickColor":"#222","tickWidth":1.3}},"x2":{"field":"to"},"y":{"field":"green","type":"quantitative","axis":null}}},
{"data":{"name":"rightH"},"mark":{"type":"area","color":"#0b5f0b"},"encoding":{"x":{"field":"nu","type":"quantitative","axis":null},"y":{"field":"strong","type":"quantitative","axis":null},"y2":{"datum":0}}},
{"data":{"name":"rightH"},"mark":{"type":"area","color":"#33ff33"},"encoding":{"x":{"field":"nu","type":"quantitative","axis":null},"y":{"field":"weak","type":"quantitative","axis":null},"y2":{"datum":0}}},
{"data":{"name":"rightLabels"},"mark":{"type":"text","font":"Liberation Serif","fontStyle":"italic","fontWeight":"bold","fontSize":27},"encoding":{"x":{"field":"nu","type":"quantitative","axis":null},"y":{"field":"y","type":"quantitative","axis":null},"text":{"field":"t"},"color":{"field":"kind","type":"nominal","legend":null,"scale":{"domain":["H","HH"],"range":["#0b5f0b","#33ff33"]}}}}
]}
]},
{"width":1095,"height":99,"data":{"name":"caption"},"encoding":{"x":{"field":"pos","type":"quantitative","scale":{"domain":[0,1095],"range":[-104,991]},"axis":null},"y":{"field":"line","type":"quantitative","scale":{"domain":[0,4],"range":[292,392],"zero":false,"nice":false},"axis":null},"text":{"field":"t"}},"layer":[
{"transform":[{"filter":"datum.face==='plain'"}],"mark":{"type":"text","align":"left","baseline":"middle","fontSize":17.9,"color":"#222","font":"Liberation Sans"}},
{"transform":[{"filter":"datum.face==='bold'"}],"mark":{"type":"text","align":"left","baseline":"middle","fontSize":17.6,"fontWeight":"bold","color":"#222","font":"Liberation Sans"}},
{"transform":[{"filter":"datum.face==='italic'"}],"mark":{"type":"text","align":"left","baseline":"middle","fontSize":17.6,"fontStyle":"italic","color":"#222","font":"Liberation Sans"}},
{"transform":[{"filter":"datum.face==='small'"}],"mark":{"type":"text","align":"left","baseline":"middle","fontSize":12,"color":"#222","font":"Liberation Sans"}}
]}
]}
